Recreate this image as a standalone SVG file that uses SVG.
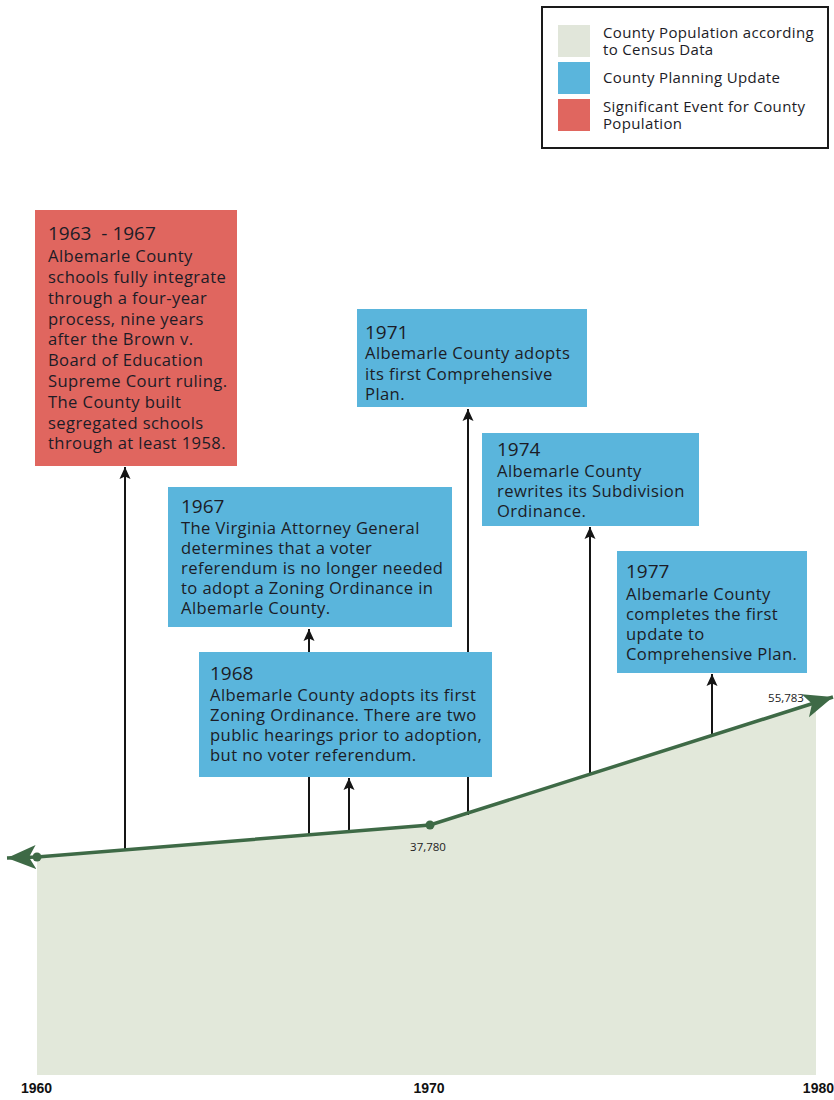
<svg xmlns="http://www.w3.org/2000/svg" width="834" height="1100" viewBox="0 0 834 1100">
<style>
.box-blue{fill:#5ab5dc}
.box-red{fill:#e0665f}
.title{font-family:"Open Sans","Liberation Sans",sans-serif;font-size:19px;font-weight:400;fill:#1c1c26}
.body{font-family:"Open Sans","Liberation Sans",sans-serif;font-size:16.6px;letter-spacing:0.4px;font-weight:500;fill:#1c1c26}
.legend{font-family:"Open Sans","Liberation Sans",sans-serif;font-size:15px;letter-spacing:0.35px;font-weight:500;fill:#1c1c26}
.axis{font-family:"Liberation Sans",Arial,sans-serif;font-size:14px;font-weight:bold;fill:#111}
.pop{font-family:"Open Sans","Liberation Sans",sans-serif;font-size:11.5px;font-weight:500;fill:#222;text-anchor:middle}
.conn{stroke:#151515;stroke-width:2;fill:none;marker-end:url(#ah)}
</style>
<defs>
<marker id="ah" markerUnits="userSpaceOnUse" markerWidth="12" markerHeight="14" viewBox="0 -7 12 14" refX="12" refY="0" orient="auto">
<path d="M0,-5.5 L12,0 L0,5.5 L2.5,0 Z" fill="#151515"/>
</marker>
<marker id="gh" markerUnits="userSpaceOnUse" markerWidth="30" markerHeight="28" viewBox="0 -14 30 28" refX="29" refY="0" orient="auto-start-reverse">
<path d="M0,-12 L29,0 L0,12 L7,0 Z" fill="#3e6a46"/>
</marker>
</defs>
<rect width="834" height="1100" fill="#ffffff"/>

<g id="legend">
<rect x="542" y="7" width="286" height="141" fill="#fff" stroke="#1a1a1a" stroke-width="2"/>
<rect x="558" y="25" width="32" height="32" fill="#e1e6da"/>
<rect x="558" y="62" width="32" height="32" fill="#5ab5dc"/>
<rect x="558" y="99" width="32" height="32" fill="#e0665f"/>
<text class="legend" x="603" y="38">County Population according</text>
<text class="legend" x="603" y="55">to Census Data</text>
<text class="legend" x="603" y="83">County Planning Update</text>
<text class="legend" x="603" y="112">Significant Event for County</text>
<text class="legend" x="603" y="129">Population</text>
</g>

<g id="population">
<polygon points="37,857 430,825 816,703 816,1075 37,1075" fill="#e2e8da"/>
</g>

<g id="connectors">
<line class="conn" x1="125" y1="850" x2="125" y2="467"/>
<line class="conn" x1="309" y1="835" x2="309" y2="629"/>
<line class="conn" x1="349" y1="832" x2="349" y2="778"/>
<line class="conn" x1="468" y1="815" x2="468" y2="409"/>
<line class="conn" x1="590" y1="775" x2="590" y2="527"/>
<line class="conn" x1="712" y1="737" x2="712" y2="674"/>
</g>

<g id="population-line">
<path d="M7,858 L37,857 L430,825 L833,697" fill="none" stroke="#3e6a46" stroke-width="3.5" marker-start="url(#gh)" marker-end="url(#gh)"/>
<circle cx="37" cy="857" r="4.5" fill="#3e6a46"/>
<circle cx="430" cy="825" r="4.5" fill="#3e6a46"/>
<text class="pop" x="428" y="851">37,780</text>
<text class="pop" x="786" y="702">55,783</text>
</g>

<g id="axis">
<text class="axis" x="21" y="1093">1960</text>
<text class="axis" x="429" y="1093" text-anchor="middle">1970</text>
<text class="axis" x="834" y="1093" text-anchor="end">1980</text>
</g>

<g id="event-1963">
<rect class="box-red" x="35" y="210" width="202" height="256"/>
<text class="title" x="48" y="240" xml:space="preserve">1963  - 1967</text>
<text class="body" x="48" y="262">Albemarle County</text>
<text class="body" x="48" y="283">schools fully integrate</text>
<text class="body" x="48" y="304">through a four-year</text>
<text class="body" x="48" y="325">process, nine years</text>
<text class="body" x="48" y="345">after the Brown v.</text>
<text class="body" x="48" y="366">Board of Education</text>
<text class="body" x="48" y="387">Supreme Court ruling.</text>
<text class="body" x="48" y="408">The County built</text>
<text class="body" x="48" y="429">segregated schools</text>
<text class="body" x="48" y="449">through at least 1958.</text>
</g>

<g id="event-1967">
<rect class="box-blue" x="168" y="487" width="284" height="140"/>
<text class="title" x="181" y="513">1967</text>
<text class="body" x="181" y="534">The Virginia Attorney General</text>
<text class="body" x="181" y="554">determines that a voter</text>
<text class="body" x="181" y="574">referendum is no longer needed</text>
<text class="body" x="181" y="594">to adopt a Zoning Ordinance in</text>
<text class="body" x="181" y="614">Albemarle County.</text>
</g>

<g id="event-1968">
<rect class="box-blue" x="199" y="652" width="293" height="125"/>
<text class="title" x="210" y="680">1968</text>
<text class="body" x="210" y="701">Albemarle County adopts its first</text>
<text class="body" x="210" y="721">Zoning Ordinance. There are two</text>
<text class="body" x="210" y="741">public hearings prior to adoption,</text>
<text class="body" x="210" y="761">but no voter referendum.</text>
</g>

<g id="event-1971">
<rect class="box-blue" x="357" y="309" width="230" height="98"/>
<text class="title" x="365" y="339">1971</text>
<text class="body" x="365" y="359">Albemarle County adopts</text>
<text class="body" x="365" y="380">its first Comprehensive</text>
<text class="body" x="365" y="400">Plan.</text>
</g>

<g id="event-1974">
<rect class="box-blue" x="482" y="433" width="217" height="93"/>
<text class="title" x="497" y="456">1974</text>
<text class="body" x="497" y="477">Albemarle County</text>
<text class="body" x="497" y="497">rewrites its Subdivision</text>
<text class="body" x="497" y="517">Ordinance.</text>
</g>

<g id="event-1977">
<rect class="box-blue" x="617" y="551" width="190" height="122"/>
<text class="title" x="626" y="578">1977</text>
<text class="body" x="626" y="600">Albemarle County</text>
<text class="body" x="626" y="620">completes the first</text>
<text class="body" x="626" y="640">update to</text>
<text class="body" x="626" y="660">Comprehensive Plan.</text>
</g>
</svg>
